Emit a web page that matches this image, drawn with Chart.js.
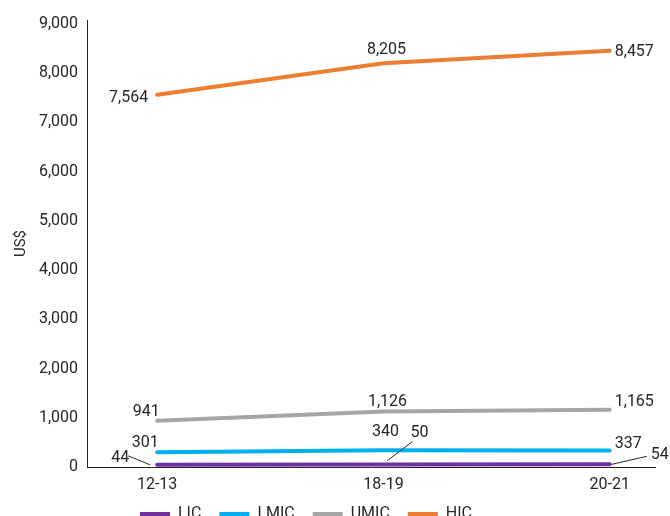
<!DOCTYPE html>
<html>
<head>
<meta charset="utf-8">
<script src="https://cdn.jsdelivr.net/npm/chart.js@4/dist/chart.umd.min.js"></script>
<style>
	html, body { margin: 0; padding: 0; background: #fff; overflow: hidden; }
	#wrap { width: 670px; height: 539px; position: relative; }
</style>
</head>
<body>
<div id="wrap"><canvas id="chart"></canvas></div>
<script>
const categories = ["12-13", "18-19", "20-21"];
const seriesNames = ["LIC", "LMIC", "UMIC", "HIC"];
const licValues = [44, 50, 54];
const lmicValues = [301, 340, 337];
const umicValues = [941, 1126, 1165];
const hicValues = [7564, 8205, 8457];
const yTicks = [0, 1000, 2000, 3000, 4000, 5000, 6000, 7000, 8000, 9000];

const seriesColors = ["#7030a0", "#00b0f0", "#a5a5a5", "#ed7d31"];
const textColor = "#262626";
const fontFamily = "Roboto, 'Liberation Sans', sans-serif";
const legendPad = 18;

// label placement per point: [align, dx, dy, leader]
const labelPlacement = [
	[["center", -37, -7, [-29, -9, -7, 0]], ["center", 36, -32, [29, -23, 4, -4]], ["center", 50, -9, [37, -8, 2, 0]]]
	, [["center", -12, -9], ["center", 2, -18], ["left", 5, -6]]
	, [["center", -11, -9], ["center", 4, -10], ["left", 5, -8]]
	, [["right", -9, 3], ["center", 3, -13], ["left", 5, 1]]
];

const allValues = [licValues, lmicValues, umicValues, hicValues];

const valueLabels = {
	id: "valueLabels"
	, afterDatasetsDraw(chart) {
		const ctx = chart.ctx;
		ctx.save();
		ctx.font = "16px " + fontFamily;
		ctx.fillStyle = textColor;
		ctx.strokeStyle = textColor;
		ctx.lineWidth = 1;
		ctx.textBaseline = "middle";
		chart.data.datasets.forEach((ds, i) => {
			const meta = chart.getDatasetMeta(i);
			meta.data.forEach((pt, j) => {
				const [align, dx, dy, leader] = labelPlacement[i][j];
				if (leader) {
					ctx.beginPath();
					ctx.moveTo(pt.x + leader[0], pt.y + leader[1]);
					ctx.lineTo(pt.x + leader[2], pt.y + leader[3]);
					ctx.stroke();
				}
				ctx.textAlign = align;
				ctx.fillText(allValues[i][j].toLocaleString("en-US"), pt.x + dx, pt.y + dy);
			});
		});
		ctx.restore();
	}
};

// nudge the legend row up and left, it sits partly under the bottom edge
const legendNudge = {
	id: "legendNudge"
	, afterLayout(chart) {
		const lg = chart.legend;
		if (!lg) return;
		const dy = (514 - legendPad - 8) - lg.top;
		const rowW = lg.lineWidths ? lg.lineWidths[0] : 0;
		const start = (lg.left + legendPad + lg.right - rowW) / 2;
		const dx = 140 - start;
		lg.top += dy; lg.bottom += dy;
		lg.left += dx; lg.right += dx;
	}
};

const datasets = allValues.map((vals, i) => ({
	label: seriesNames[i]
	, data: vals.map((v, j) => ({ x: j, y: v }))
	, borderColor: seriesColors[i]
	, backgroundColor: seriesColors[i]
	, borderWidth: 4
	, borderCapStyle: "round"
	, pointRadius: 0
	, tension: 0
}));

new Chart(document.getElementById("chart"), {
	type: "line"
	, data: { datasets }
	, plugins: [valueLabels, legendNudge]
	, options: {
		responsive: true
		, maintainAspectRatio: false
		, animation: false
		, layout: { padding: { top: 20, right: 15, left: 0, bottom: 0 } }
		, plugins: {
			tooltip: { enabled: false }
			, legend: {
				position: "bottom"
				, labels: {
					usePointStyle: true
					, pointStyle: "line"
					, pointStyleWidth: 30
					, padding: legendPad
					, color: textColor
					, font: { family: fontFamily, size: 16 }
				}
			}
		}
		, scales: {
			x: {
				type: "linear"
				, min: -0.31
				, max: 2.2
				, afterBuildTicks: (scale) => { scale.ticks = categories.map((c, i) => ({ value: i })); }
				, afterFit: (scale) => { scale.height = 28; }
				, grid: { display: false, drawTicks: false }
				, border: { display: true, color: "#222", width: 1 }
				, ticks: {
					padding: 8
					, color: textColor
					, font: { family: fontFamily, size: 16 }
					, maxRotation: 0
					, callback: (v) => categories[v] ?? ""
				}
			}
			, y: {
				min: 0
				, max: 9082
				, afterBuildTicks: (scale) => { scale.ticks = yTicks.map(v => ({ value: v })); }
				, afterFit: (scale) => { scale.width = 87; }
				, grid: { display: false, drawTicks: false }
				, border: { display: true, color: "#222", width: 1 }
				, title: {
					display: true
					, text: "US$"
					, color: textColor
					, font: { family: fontFamily, size: 15 }
					, padding: { top: 12, bottom: 0 }
				}
				, ticks: {
					padding: 9
					, color: textColor
					, font: { family: fontFamily, size: 16 }
					, callback: (v) => v.toLocaleString("en-US")
				}
			}
		}
	}
});
</script>
</body>
</html>
